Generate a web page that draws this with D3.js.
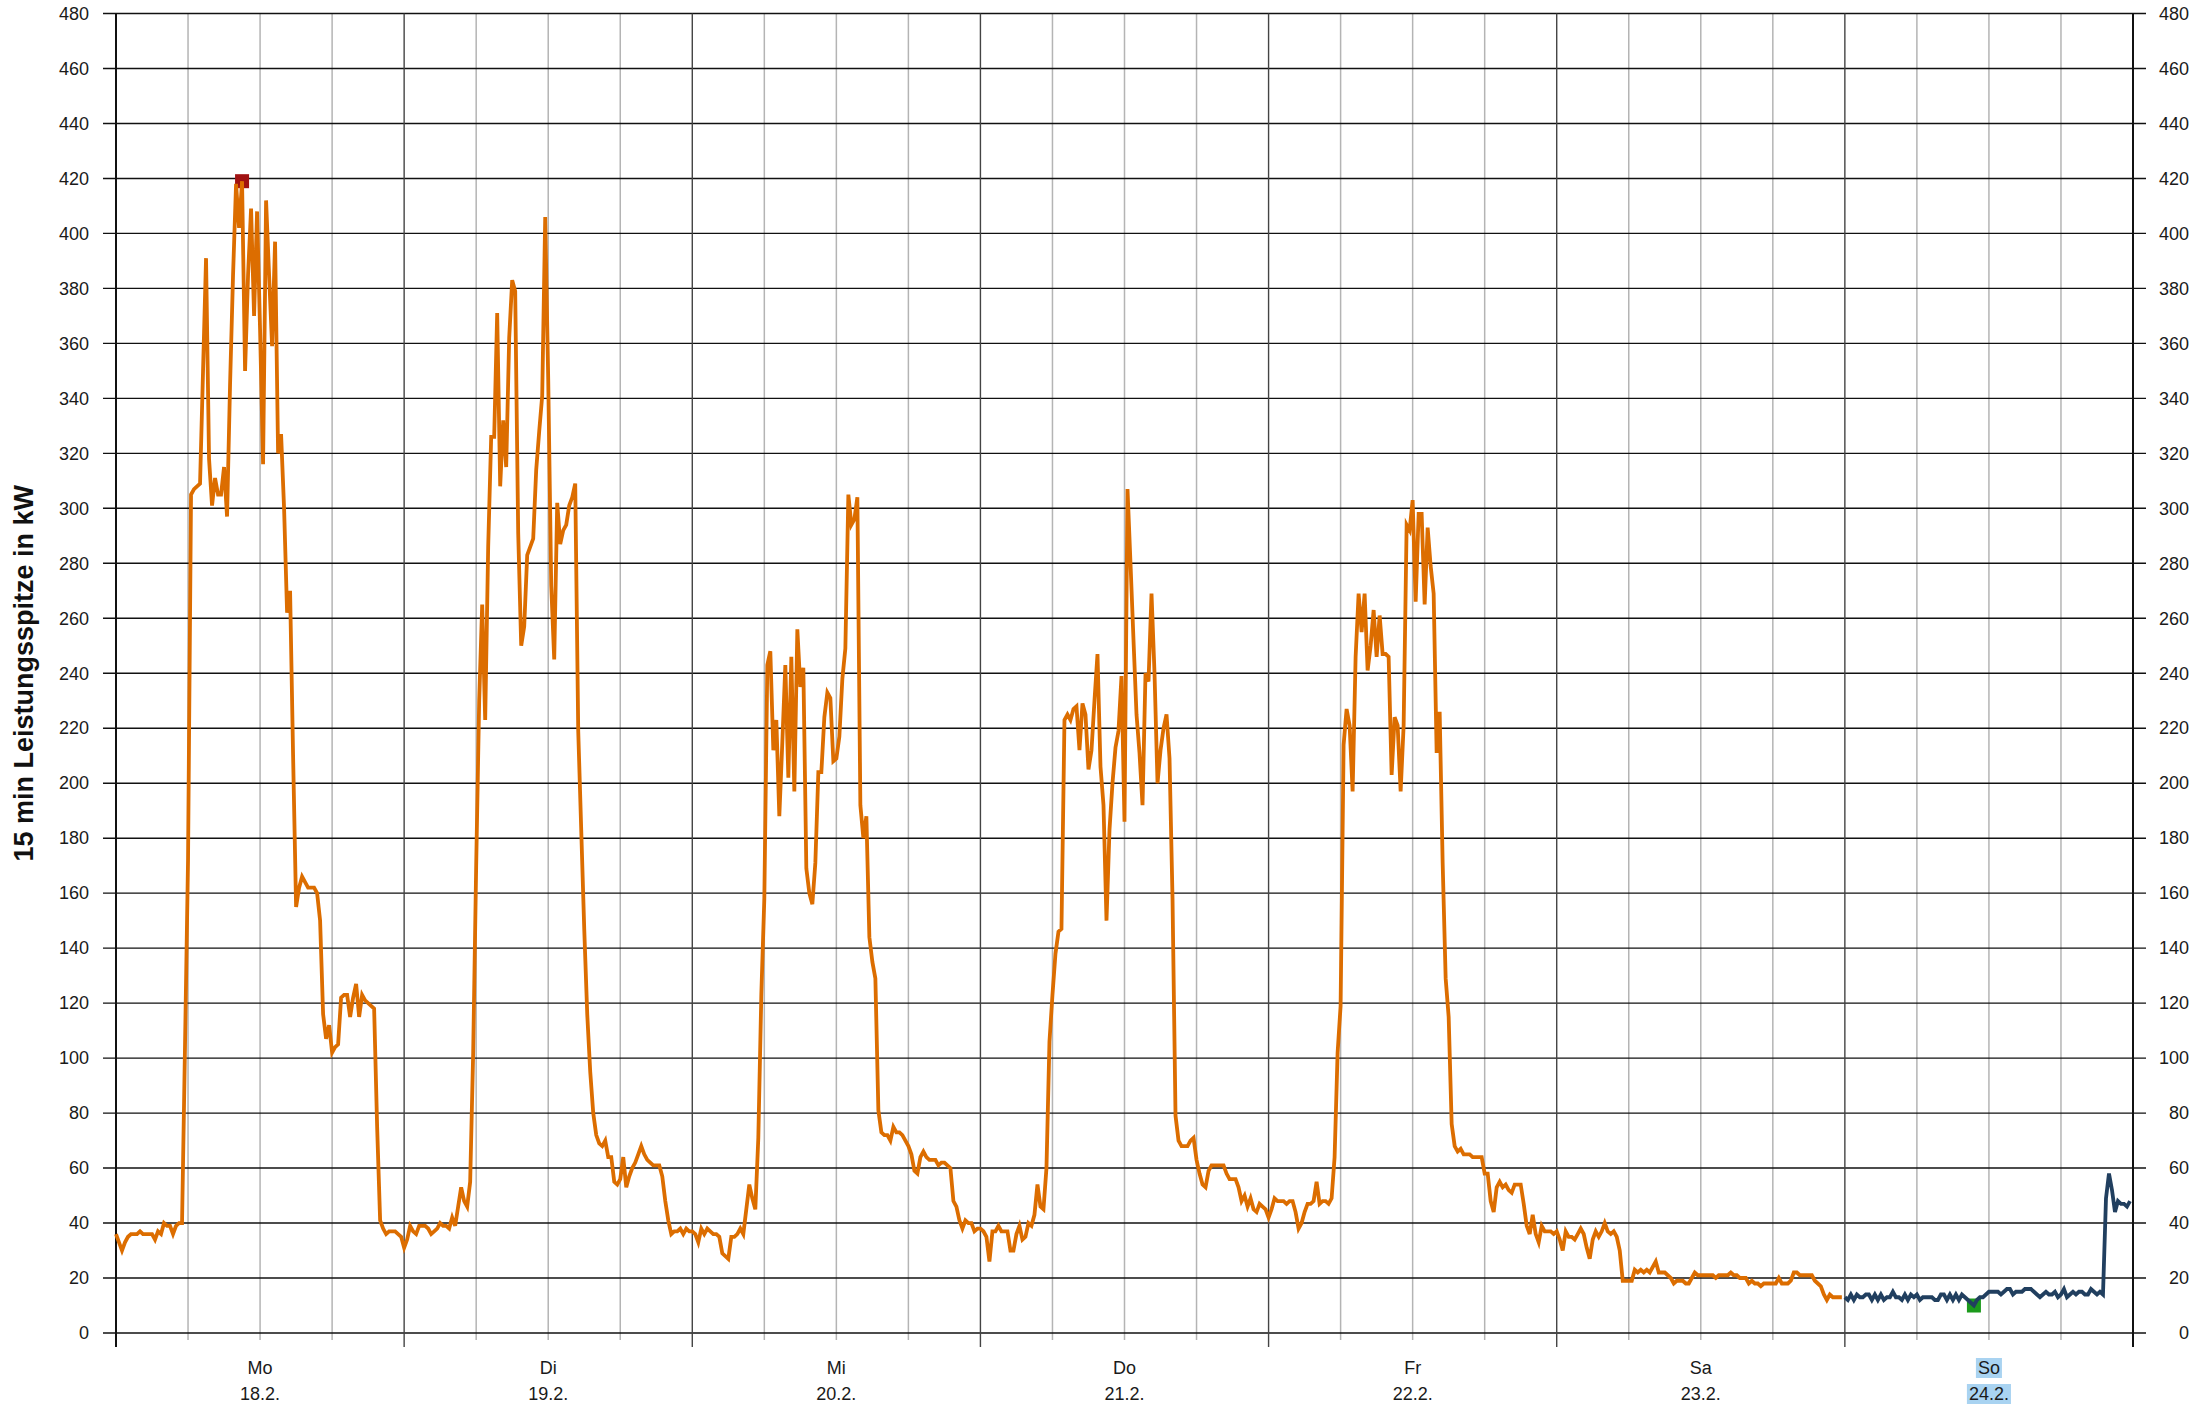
<!DOCTYPE html>
<html>
<head>
<meta charset="utf-8">
<script src="https://cdn.jsdelivr.net/npm/d3@7"></script>
<style>
  html, body { margin: 0; padding: 0; background: #fff; }
  svg { display: block; font-family: "Liberation Sans", Arial, sans-serif; }
</style>
</head>
<body>
<div id="chart"></div>
<script>
// 15-min Leistungsspitzen (kW), 96 Werte je Tag
var dayMo = [36,33,30,33,35,36,36,36,37,36,36,36,36,34,37,36,40,39,39,36,39,40,40,105,
             172,305,307,308,309,350,391,318,301,311,305,305,315,297,345,385,418,402,419,350,385,409,370,408,
             365,316,412,385,359,397,320,327,300,262,270,210,155,162,166,164,162,162,162,160,150,116,107,112,
             102,104,105,122,123,123,115,122,127,115,123,121,120,119,118,75,41,38,36,37,37,37,36,35];
var dayDi = [31,34,39,37,36,39,39,39,38,36,37,38,40,39,39,38,42,39,46,53,48,46,55,102,
             170,230,265,223,286,326,326,371,308,332,315,362,383,379,291,250,257,283,286,289,314,328,341,406,
             347,272,245,302,287,292,294,301,304,309,219,183,147,116,95,80,72,69,68,70,64,64,55,54,
             56,64,53,57,60,62,65,68,65,63,62,61,61,61,57,48,41,36,37,37,38,36,38,37];
var dayMi = [37,36,33,38,36,38,37,36,36,35,29,28,27,35,35,36,38,36,45,54,49,45,71,123,
             158,243,248,212,223,188,215,243,202,246,197,256,235,242,169,160,156,171,204,204,224,233,231,208,
             209,217,238,249,305,294,296,304,192,180,188,144,135,129,81,73,72,72,70,75,73,73,72,70,
             68,65,59,58,64,66,64,63,63,63,61,62,62,61,60,48,46,41,38,41,40,40,37,38];
var dayDo = [38,37,35,26,37,37,39,37,37,37,30,30,36,39,34,35,40,39,43,54,46,45,60,106,
             123,138,146,147,223,225,223,227,228,212,229,225,205,212,230,247,206,192,150,183,200,213,219,239,
             186,307,280,252,225,211,192,240,237,269,240,200,212,220,225,209,158,79,70,68,68,68,70,71,
             63,58,54,53,59,61,61,61,61,61,58,56,56,56,53,48,50,46,49,45,44,47,46,45];
var dayFr = [42,45,49,48,48,48,47,48,48,44,38,40,44,47,47,48,55,47,48,48,47,49,64,102,
             119,214,227,221,197,246,269,255,269,241,250,263,246,261,247,247,246,203,224,221,197,221,294,292,
             303,266,298,298,265,293,279,269,211,226,171,129,115,76,68,66,67,65,65,65,64,64,64,64,
             58,58,48,44,53,55,53,54,52,51,54,54,54,47,39,36,43,36,33,39,37,37,37,36];
var daySa = [37,34,30,37,35,35,34,36,38,36,31,27,34,37,35,37,40,37,36,37,35,30,19,19,
             19,19,23,22,23,22,23,22,24,26,22,22,22,21,20,18,19,19,19,18,18,20,22,21,
             21,21,21,21,21,20,21,21,21,21,22,21,21,20,20,20,18,19,18,18,17,18,18,18,
             18,18,20,18,18,18,19,22,22,21,21,21,21,21,19,18,17,14,12,14,13,13,13,13];
var daySo = [13,12,14,12,14,13,13,14,14,12,14,12,14,12,13,13,15,13,13,12,14,12,14,13,
             14,12,13,13,13,13,12,12,14,14,12,14,12,14,12,14,13,12,11,10,12,13,13,14,
             15,15,15,15,14,15,16,16,14,15,15,15,16,16,16,15,14,13,14,15,14,14,15,13,
             14,16,13,14,15,14,15,15,14,14,16,15,14,15,14,49,58,52,44,48,47,47,46,48];

var dayNames = ["Mo", "Di", "Mi", "Do", "Fr", "Sa", "So"];
var dayDates = ["18.2.", "19.2.", "20.2.", "21.2.", "22.2.", "23.2.", "24.2."];
var yTicks = [0,20,40,60,80,100,120,140,160,180,200,220,240,260,280,300,320,340,360,380,400,420,440,460,480];
var highlightDay = 6;

var width = 2202;
var height = 1407;
var plotLeft = 116, plotRight = 2133, plotTop = 13.5, plotBottom = 1333;
var perDay = 96;

var pastValues = [].concat(dayMo, dayDi, dayMi, dayDo, dayFr, daySa);
var pastData = pastValues.map(function(v, i) { return { i: i, v: v }; });
var todayData = daySo.map(function(v, i) { return { i: i + pastValues.length, v: v }; });
var allData = pastData.concat(todayData);

var x = d3.scaleLinear().domain([0, perDay * 7]).range([plotLeft, plotRight]);
var y = d3.scaleLinear().domain([0, 480]).range([plotBottom, plotTop]);

var svg = d3.select("#chart")
    .append("svg")
    .attr("width", width)
    .attr("height", height);

// 6-Stunden Linien
var sixHours = d3.range(0, perDay * 7 + 1, 24).filter(function(d) { return d % perDay !== 0; });
svg.append("g")
    .selectAll("line")
    .data(sixHours)
    .enter()
    .append("line")
    .attr("x1", function(d) { return x(d); })
    .attr("x2", function(d) { return x(d); })
    .attr("y1", plotTop)
    .attr("y2", plotBottom + 7)
    .attr("stroke", "#b4b4b4")
    .attr("stroke-width", 1.5);

// horizontale Gitterlinien
svg.append("g")
    .selectAll("line")
    .data(yTicks)
    .enter()
    .append("line")
    .attr("x1", plotLeft - 13)
    .attr("x2", plotRight + 13)
    .attr("y1", function(d) { return y(d); })
    .attr("y2", function(d) { return y(d); })
    .attr("stroke", "#111")
    .attr("stroke-width", 1.4);

// Tageslinien
var dayLines = d3.range(0, 8).map(function(d) { return d * perDay; });
svg.append("g")
    .selectAll("line")
    .data(dayLines)
    .enter()
    .append("line")
    .attr("x1", function(d) { return x(d); })
    .attr("x2", function(d) { return x(d); })
    .attr("y1", plotTop)
    .attr("y2", plotBottom + 14)
    .attr("stroke", function(d, i) { return (i === 0 || i === 7) ? "#111" : "#444"; })
    .attr("stroke-width", function(d, i) { return (i === 0 || i === 7) ? 2 : 1.4; });

// y-Achsen Beschriftung
svg.append("g")
    .attr("transform", "translate(" + plotLeft + ",0)")
    .call(d3.axisLeft(y).tickValues(yTicks).tickSize(0).tickPadding(27))
    .call(function(g) { g.select(".domain").remove(); })
    .selectAll("text")
    .attr("font-size", 18)
    .attr("font-family", "Liberation Sans, Arial, sans-serif")
    .attr("fill", "#1a1a1a");

svg.append("g")
    .attr("transform", "translate(" + plotRight + ",0)")
    .call(d3.axisRight(y).tickValues(yTicks).tickSize(0).tickPadding(56))
    .call(function(g) { g.select(".domain").remove(); })
    .selectAll("text")
    .attr("text-anchor", "end")
    .attr("font-size", 18)
    .attr("font-family", "Liberation Sans, Arial, sans-serif")
    .attr("fill", "#1a1a1a");

// Achsentitel
svg.append("text")
    .attr("transform", "translate(33," + ((plotTop + plotBottom) / 2) + ") rotate(-90)")
    .attr("text-anchor", "middle")
    .attr("font-size", 27)
    .attr("font-weight", "bold")
    .attr("fill", "#111")
    .text("15 min Leistungsspitze in kW");

// x Beschriftung (Tag + Datum)
var dayLabels = svg.append("g")
    .selectAll("g")
    .data(dayNames)
    .enter()
    .append("g")
    .attr("transform", function(d, i) { return "translate(" + x(i * perDay + perDay / 2) + ",0)"; });

dayLabels.each(function(d, i) {
    var g = d3.select(this);
    var t1 = g.append("text")
        .attr("y", 1368)
        .attr("text-anchor", "middle")
        .attr("dominant-baseline", "central")
        .attr("font-size", 18)
        .attr("fill", "#1a1a1a")
        .text(d);
    var t2 = g.append("text")
        .attr("y", 1394)
        .attr("text-anchor", "middle")
        .attr("dominant-baseline", "central")
        .attr("font-size", 18)
        .attr("fill", "#1a1a1a")
        .text(dayDates[i]);
    if (i === highlightDay) {
        [t1, t2].forEach(function(t) {
            var b = t.node().getBBox();
            g.insert("rect", "text")
                .attr("x", b.x - 2)
                .attr("y", b.y)
                .attr("width", b.width + 4)
                .attr("height", b.height)
                .attr("fill", "#a9d3f1");
        });
    }
});

// Maximum / Minimum markieren
var maxPoint = allData.reduce(function(a, b) { return b.v > a.v ? b : a; });
var minPoint = allData.reduce(function(a, b) { return b.v < a.v ? b : a; });

svg.append("rect")
    .attr("x", x(maxPoint.i) - 7)
    .attr("y", y(maxPoint.v) - 7)
    .attr("width", 14)
    .attr("height", 14)
    .attr("fill", "#a01212");

svg.append("rect")
    .attr("x", x(minPoint.i) - 7)
    .attr("y", y(minPoint.v) - 7)
    .attr("width", 14)
    .attr("height", 14)
    .attr("fill", "#1c9a1c");

// Linien
var line = d3.line()
    .x(function(d) { return x(d.i); })
    .y(function(d) { return y(d.v); });

svg.append("path")
    .datum(pastData)
    .attr("d", line)
    .attr("fill", "none")
    .attr("stroke", "#dc6d00")
    .attr("stroke-width", 3.8)
    .attr("stroke-linejoin", "miter");

svg.append("path")
    .datum(todayData)
    .attr("d", line)
    .attr("fill", "none")
    .attr("stroke", "#213f5f")
    .attr("stroke-width", 3.8)
    .attr("stroke-linejoin", "miter");
</script>
</body>
</html>
